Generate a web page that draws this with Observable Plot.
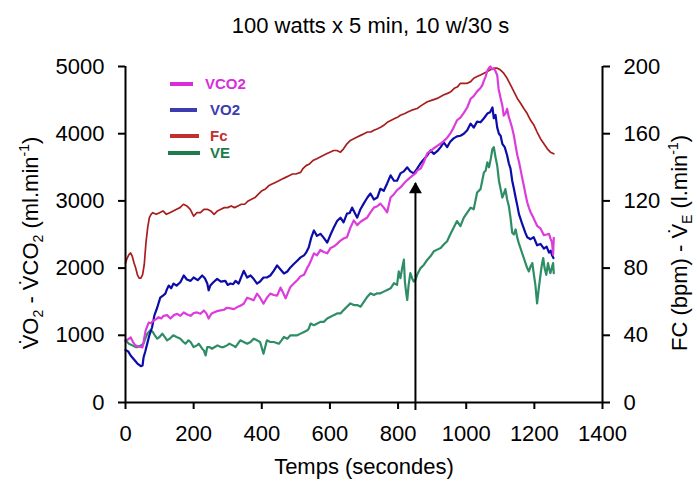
<!DOCTYPE html>
<html>
<head>
<meta charset="utf-8">
<script src="https://cdn.jsdelivr.net/npm/d3@7"></script>
<script src="https://cdn.jsdelivr.net/npm/@observablehq/plot@0.6"></script>
<style>
  html, body { margin: 0; padding: 0; background: #fff; }
  body { width: 697px; height: 484px; overflow: hidden; font-family: "Liberation Sans", Arial, sans-serif; }
  #title { height: 50px; line-height: 52px; width: 697px; box-sizing: border-box; padding-left: 44px; text-align: center; font-size: 22px; color: #000; }
  #chart { position: relative; width: 697px; height: 434px; }
  #chart svg { display: block; }
  .leg { position: absolute; font-weight: bold; font-size: 15px; line-height: 16px; }
  .sw { position: absolute; height: 4px; }
</style>
</head>
<body>
<div id="title">100 watts x 5 min, 10 w/30 s</div>
<div id="chart"></div>
<script>
// ---- tick labels ----
const xTicks = [0, 200, 400, 600, 800, 1000, 1200, 1400];
const yLeftTicks = [0, 1000, 2000, 3000, 4000, 5000];
const yRightTicks = [0, 40, 80, 120, 160, 200];

// ---- series names ----
const seriesNames = ["VCO2", "VO2", "Fc", "VE"];

// VO2 (ml/min) [time s, value]
const vo2 = [[0,780],[8,760],[15,700],[25,640],[35,580],[45,540],[50,550],[53,670],[58,760],[64,880],[70,1000],[78,1120],[85,1300],[93,1410],[102,1560],[110,1590],[117,1620],[122,1690],[127,1740],[134,1700],[141,1770],[150,1740],[161,1790],[171,1890],[180,1830],[191,1810],[200,1860],[212,1820],[225,1890],[233,1850],[240,1770],[244,1670],[249,1740],[258,1790],[269,1840],[280,1800],[293,1810],[300,1750],[308,1770],[316,1760],[323,1810],[332,1770],[347,1960],[357,1860],[367,1890],[376,1840],[386,1770],[395,1800],[405,1860],[415,1860],[425,1890],[435,1960],[445,2040],[455,1980],[465,1920],[475,1950],[484,2010],[494,2060],[504,2110],[514,2160],[524,2190],[530,2230],[538,2310],[545,2450],[553,2560],[562,2480],[572,2510],[582,2450],[592,2380],[602,2500],[611,2600],[621,2700],[631,2750],[640,2680],[650,2810],[658,2820],[665,2900],[680,2750],[690,2880],[699,2960],[710,3050],[719,3110],[729,3020],[739,3050],[748,3180],[758,3150],[768,3260],[778,3380],[788,3300],[797,3300],[807,3410],[817,3440],[827,3500],[836,3440],[846,3410],[856,3480],[866,3560],[876,3620],[886,3680],[895,3750],[905,3700],[915,3740],[925,3800],[934,3870],[944,3800],[953,3880],[963,3930],[973,3960],[983,3970],[993,4000],[1003,4050],[1013,4150],[1022,4090],[1032,4180],[1042,4170],[1052,4230],[1062,4300],[1070,4320],[1077,4390],[1081,4230],[1086,4280],[1091,4090],[1096,4000],[1101,3970],[1106,3850],[1113,3800],[1120,3680],[1125,3560],[1130,3480],[1135,3300],[1140,3180],[1145,3050],[1150,2930],[1155,2800],[1159,2740],[1164,2660],[1169,2590],[1174,2520],[1179,2460],[1189,2430],[1198,2460],[1208,2340],[1218,2360],[1228,2290],[1236,2320],[1243,2230],[1248,2260],[1252,2190],[1256,2150]];

// VCO2 (ml/min)
const vco2 = [[0,920],[8,940],[15,970],[22,900],[29,850],[40,830],[50,820],[59,1070],[68,1190],[75,1180],[82,1220],[90,1240],[97,1270],[105,1250],[112,1290],[122,1300],[132,1250],[142,1300],[152,1320],[161,1290],[171,1340],[181,1310],[191,1290],[200,1330],[210,1340],[220,1320],[230,1370],[237,1330],[244,1250],[252,1320],[259,1340],[269,1360],[279,1370],[289,1380],[298,1410],[308,1400],[318,1390],[328,1420],[337,1440],[347,1470],[357,1560],[367,1540],[376,1520],[386,1620],[395,1560],[405,1470],[415,1560],[425,1620],[435,1600],[445,1590],[455,1710],[462,1640],[470,1550],[478,1650],[484,1720],[494,1770],[504,1820],[514,1880],[524,1900],[534,2010],[538,2040],[545,2120],[553,2220],[562,2190],[572,2270],[582,2240],[592,2220],[602,2300],[611,2320],[621,2360],[631,2410],[640,2440],[650,2460],[660,2600],[670,2710],[680,2640],[690,2690],[699,2720],[709,2750],[719,2830],[729,2900],[739,2920],[748,2960],[758,2900],[768,2830],[778,3050],[788,3100],[797,3160],[807,3200],[817,3260],[827,3310],[836,3350],[846,3390],[851,3410],[856,3450],[866,3480],[876,3580],[886,3710],[895,3740],[904,3780],[915,3820],[924,3850],[934,3890],[944,3940],[953,4000],[963,4090],[973,4200],[983,4240],[993,4310],[1003,4390],[1013,4520],[1022,4560],[1032,4630],[1042,4680],[1047,4720],[1052,4790],[1057,4850],[1062,4940],[1067,4980],[1071,5000],[1076,4960],[1081,4970],[1086,4930],[1091,4870],[1095,4670],[1100,4550],[1106,4420],[1110,4270],[1115,4300],[1120,4370],[1125,4250],[1130,4170],[1135,4080],[1140,3970],[1145,3820],[1150,3680],[1155,3580],[1159,3480],[1164,3350],[1169,3230],[1174,3100],[1179,2980],[1184,2900],[1189,2830],[1198,2740],[1208,2630],[1218,2590],[1228,2490],[1236,2500],[1243,2510],[1248,2430],[1252,2380],[1255,2200],[1257,2450]];

// Fc (bpm) - right axis
const fc = [[0,83],[5,86],[10,88],[15,89],[20,87],[25,83],[30,80],[35,76],[40,74],[45,74],[50,76],[55,82],[60,95],[65,104],[70,110],[75,112],[80,113],[90,112],[100,113],[110,114],[120,112],[130,113],[140,114],[150,115],[160,116],[170,118],[180,117],[190,115],[200,111],[210,113],[220,113],[230,115],[240,115],[250,114],[260,112],[270,114],[280,115],[290,116],[300,116],[310,117],[320,116],[330,117],[340,118],[350,118],[360,120],[370,121],[380,122],[390,124],[400,126],[410,127],[420,129],[430,130],[440,131],[450,132],[460,133],[470,134],[480,135],[490,136],[500,136],[514,137],[520,139],[530,141],[540,142],[550,144],[560,145],[570,146],[580,147],[590,148],[600,149],[611,150],[620,150],[631,149],[640,151],[650,154],[660,156],[670,157],[680,158],[690,159],[700,160],[710,161],[720,161],[729,162],[740,163],[750,164],[758,165],[770,167],[780,168],[790,169],[800,170],[807,171],[820,172],[830,173],[840,174],[856,175],[870,177],[886,179],[900,180],[915,181],[933,183],[945,184],[955,185],[965,187],[975,188],[983,190],[995,190],[1003,190],[1013,191],[1022,193],[1032,194],[1042,195],[1052,196],[1062,197],[1071,198],[1081,199],[1091,199],[1100,198],[1110,196],[1120,193],[1130,189],[1140,185],[1150,181],[1160,178],[1169,175],[1179,172],[1189,168],[1199,165],[1208,161],[1218,157],[1228,154],[1238,151],[1247,149],[1257,148]];

// VE (l/min) - right axis
const ve = [[0,37],[5,36],[10,35],[20,34],[30,33],[35,33],[45,34],[53,35],[58,38],[64,41],[73,43],[80,42],[86,40],[93,38],[100,39],[108,41],[115,39],[122,37],[130,38],[140,40],[150,39],[161,38],[170,36],[176,35],[185,37],[191,36],[200,33],[210,34],[215,35],[225,32],[230,31],[235,28],[240,33],[247,33],[254,32],[262,33],[270,34],[280,33],[288,33],[298,34],[305,35],[315,34],[323,33],[330,35],[337,37],[347,36],[357,35],[367,36],[376,38],[386,37],[395,36],[405,29],[410,33],[415,37],[425,36],[435,36],[450,35],[458,37],[465,39],[475,38],[484,40],[494,40],[504,40],[514,41],[524,42],[534,43],[538,44],[543,47],[553,46],[563,47],[572,48],[582,48],[592,50],[602,51],[611,52],[621,53],[631,53],[640,55],[650,57],[660,59],[670,58],[680,58],[690,57],[700,60],[710,63],[719,65],[729,64],[739,65],[748,65],[758,66],[768,67],[778,68],[788,71],[797,70],[802,78],[807,74],[812,80],[817,85],[820,72],[824,65],[827,61],[831,70],[836,77],[841,74],[846,72],[851,73],[856,76],[866,80],[876,82],[886,85],[895,87],[905,90],[915,91],[925,92],[934,94],[944,96],[953,100],[963,104],[973,108],[983,105],[993,110],[1003,113],[1013,116],[1022,115],[1032,125],[1042,127],[1047,132],[1052,137],[1057,138],[1062,143],[1067,140],[1072,145],[1077,151],[1081,152],[1086,146],[1091,141],[1096,132],[1101,127],[1106,122],[1110,124],[1115,127],[1120,121],[1125,117],[1130,110],[1135,101],[1140,100],[1145,103],[1150,98],[1154,95],[1159,92],[1164,89],[1169,86],[1174,83],[1179,80],[1184,78],[1189,81],[1194,83],[1198,77],[1203,70],[1208,59],[1213,68],[1218,76],[1222,82],[1226,86],[1230,80],[1235,76],[1240,83],[1244,79],[1247,77],[1251,80],[1255,83],[1257,77]];

// arrow marking a time point (s) and its tip value (ml/min)
const arrow = [{t: 851, tip: 3260}];

// ---- styling ----
const colors = {VCO2: "#dc3cdc", VO2: "#0c0ca8", Fc: "#a81e1e", VE: "#2f8d66"};
const legendColors = {VCO2: "#d82ed8", VO2: "#3c3cae", Fc: "#c0302e", VE: "#1e7b4c"};
const rightFactor = yLeftTicks[yLeftTicks.length - 1] / yRightTicks[yRightTicks.length - 1];

const X = d => d[0];
const Y = d => d[1];
const YR = d => d[1] * rightFactor;

const svg = Plot.plot({
  width: 697,
  height: 434,
  marginTop: 16,
  marginRight: 95,
  marginBottom: 82,
  marginLeft: 125,
  x: {domain: [0, 1400]},
  y: {domain: [0, 5000]},
  style: {fontFamily: "'Liberation Sans', Arial, sans-serif", fontSize: "22px", color: "#000", background: "#fff", overflow: "visible"},
  marks: [
    Plot.line(ve, {x: X, y: YR, stroke: colors.VE, strokeWidth: 2.2}),
    Plot.line(fc, {x: X, y: YR, stroke: colors.Fc, strokeWidth: 1.7}),
    Plot.line(vo2, {x: X, y: Y, stroke: colors.VO2, strokeWidth: 2.2}),
    Plot.line(vco2, {x: X, y: Y, stroke: colors.VCO2, strokeWidth: 2.2}),
    Plot.ruleX(arrow, {x: "t", y1: () => 0, y2: "tip", stroke: "#000", strokeWidth: 2, insetTop: 8}),
    Plot.dot(arrow, {x: "t", y: "tip", symbol: "triangle", r: 4.8, fill: "#000", stroke: "none", dy: 6}),
    Plot.ruleY([0], {stroke: "#000", strokeWidth: 2}),
    Plot.ruleX([0, 1400], {stroke: "#000", strokeWidth: 2}),
    Plot.axisX(xTicks, {tickSize: 7, tickPadding: 16, strokeWidth: 2, label: null, tickFormat: d => String(d)}),
    Plot.axisY(yLeftTicks, {anchor: "left", tickSize: 7, tickPadding: 14, strokeWidth: 2, label: null, tickFormat: d => String(d)}),
    Plot.axisY(yRightTicks.map(v => v * rightFactor), {anchor: "right", tickSize: 7, tickPadding: 14, strokeWidth: 2, label: null, tickFormat: d => String(d / rightFactor)}),
    Plot.text(["Temps (secondes)"], {frameAnchor: "bottom", dy: 71, fontSize: 22, fill: "#000"})
  ]
});

document.getElementById("chart").appendChild(svg);

// ---- axis titles with sub/superscripts ----
const s = d3.select(svg);
function axisTitle(x, y, parts) {
  const t = s.append("text")
    .attr("transform", `translate(${x},${y}) rotate(-90)`)
    .attr("text-anchor", "middle")
    .attr("dy", "0.35em")
    .attr("fill", "#000")
    .style("font-size", "22px")
    .style("font-family", "'Liberation Sans', Arial, sans-serif");
  let shift = 0;
  for (const [txt, kind] of parts) {
    const sp = t.append("tspan").text(txt);
    let target = 0;
    if (kind === "sub") { sp.style("font-size", "14px"); target = 5; }
    else if (kind === "sup") { sp.style("font-size", "14px"); target = -9; }
    if (target !== shift) { sp.attr("dy", target - shift); shift = target; }
  }
}
axisTitle(30, 193, [["V\u0307O"], ["2", "sub"], [" - V\u0307CO"], ["2", "sub"], [" (ml.min"], ["-1", "sup"], [")"]]);
axisTitle(679, 193, [["FC (bpm) - V\u0307"], ["E", "sub"], [" (l.min"], ["-1", "sup"], [")"]]);

// ---- legend (HTML overlay) ----
const chart = document.getElementById("chart");
const legendRows = [
  {name: "VCO2", y: 34, x1: 170, x2: 193, tx: 205},
  {name: "VO2", y: 60, x1: 170, x2: 197, tx: 210},
  {name: "Fc", y: 86, x1: 170, x2: 199, tx: 210},
  {name: "VE", y: 103, x1: 168, x2: 200, tx: 210}
];
for (const r of legendRows) {
  const sw = document.createElement("div");
  sw.className = "sw";
  sw.style.left = r.x1 + "px";
  sw.style.width = (r.x2 - r.x1) + "px";
  sw.style.top = (r.y - 2) + "px";
  sw.style.background = legendColors[r.name];
  chart.appendChild(sw);
  const tx = document.createElement("div");
  tx.className = "leg";
  tx.textContent = r.name;
  tx.style.left = r.tx + "px";
  tx.style.top = (r.y - 8) + "px";
  tx.style.color = legendColors[r.name];
  chart.appendChild(tx);
}
</script>
</body>
</html>
